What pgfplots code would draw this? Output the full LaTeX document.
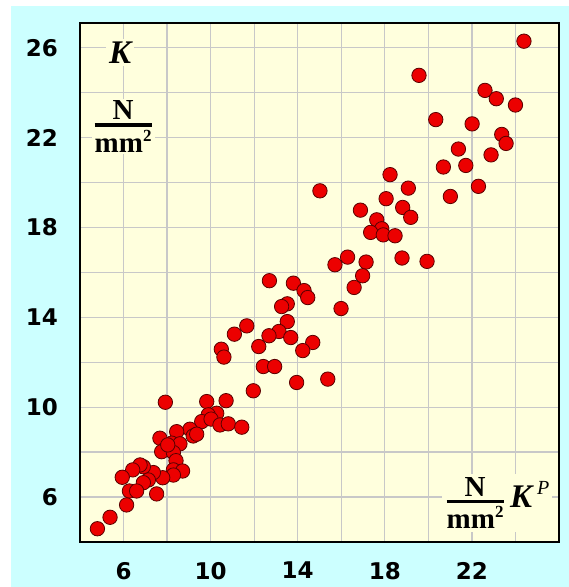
\documentclass[border=0pt]{standalone}
\usepackage{pgfplots}
\pgfplotsset{compat=1.18}
\usepackage{amsmath}
\usepackage{fontspec}
\setmainfont{Liberation Serif}
\newfontfamily\tickfont{DejaVu Sans}
\definecolor{bgcyan}{RGB}{204,255,255}
\definecolor{bgyellow}{RGB}{255,255,221}
\definecolor{gridgray}{RGB}{200,200,200}
\definecolor{markred}{RGB}{236,0,0}
\definecolor{markedge}{RGB}{90,0,0}
\newcommand\Nmm{$\genfrac{}{}{3.5pt}{1}{\hbox{\bfseries N}}{\hbox{\bfseries mm\raisebox{0.38em}{\fontsize{17}{17}\selectfont 2}}}$}
\pgfplotstableread{
x y
24.39 26.29
19.57 24.77
22.60 24.10
23.12 23.73
24.00 23.45
20.34 22.80
22.01 22.61
23.37 22.14
23.57 21.74
21.38 21.49
22.88 21.23
20.69 20.69
21.72 20.76
19.08 19.75
22.30 19.83
21.01 19.38
18.82 18.89
19.19 18.45
18.24 20.35
18.06 19.28
16.88 18.77
17.63 18.34
17.86 17.94
17.35 17.78
17.93 17.67
18.47 17.63
16.29 16.68
15.71 16.34
17.14 16.46
18.79 16.64
19.94 16.49
16.98 15.85
16.59 15.33
15.99 14.39
15.02 19.63
13.80 15.52
14.29 15.19
14.46 14.88
13.52 14.60
13.26 14.48
13.52 13.81
13.14 13.37
13.68 13.10
14.69 12.88
14.23 12.52
13.95 11.10
15.38 11.25
12.70 15.63
11.66 13.62
11.09 13.25
12.68 13.18
12.21 12.70
10.49 12.58
10.61 12.23
12.42 11.81
12.94 11.81
11.96 10.73
10.71 10.29
9.82 10.25
7.92 10.22
10.28 9.73
9.89 9.66
9.59 9.36
10.02 9.47
10.43 9.21
10.81 9.26
11.43 9.11
9.05 9.02
9.20 8.72
9.36 8.80
8.44 8.91
7.67 8.62
8.21 8.40
8.59 8.37
7.90 8.13
7.75 8.02
8.29 7.98
8.41 7.62
8.03 8.32
8.29 7.21
8.71 7.16
8.29 6.98
7.80 6.86
7.37 7.09
6.91 7.35
6.76 7.43
6.42 7.21
5.94 6.88
7.14 6.76
6.91 6.64
6.27 6.27
6.60 6.27
7.52 6.14
6.14 5.65
5.38 5.10
4.80 4.59
}\pts
\begin{document}
\begin{tikzpicture}
\fill[white] (0,0) rectangle (569pt,587pt);
\fill[bgcyan] (11pt,0) rectangle (569pt,581pt);
\begin{axis}[
  at={(80pt,45pt)}, anchor=south west,
  scale only axis, width=479pt, height=519pt,
  xmin=4, xmax=26, ymin=4, ymax=27.1,
  axis background/.style={fill=bgyellow},
  axis line style={line width=1.6pt, black},
  xtick={6,10,14,18,22}, ytick={6,10,14,18,22,26},
  minor xtick={8,12,16,20,24}, minor ytick={8,12,16,20,24},
  grid=both,
  major grid style={gridgray, line width=1.3pt},
  minor grid style={gridgray, line width=1.3pt},
  major tick length=0pt, minor tick length=0pt,
  tick label style={font=\tickfont\bfseries\fontsize{23}{26}\selectfont, inner sep=0pt},
  /pgf/number format/assume math mode=true,
  yticklabel style={xshift=-22pt},
  xticklabel style={yshift=-20pt},
]
\addplot[only marks, mark=*, mark size=7.2pt, mark options={fill=markred, draw=markedge, line width=0.8pt}] table[x=x,y=y] {\pts};
\node[fill=bgyellow, inner sep=3pt, font=\fontsize{33}{40}\selectfont\bfseries\itshape] at (axis cs:5.84,25.78) {K};
\node[fill=bgyellow, inner sep=2pt, font=\fontsize{29}{34}\selectfont] at (axis cs:5.98,22.49) {\Nmm};
\node[fill=bgyellow, inner sep=3pt, anchor=east, font=\fontsize{29}{34}\selectfont] at (axis cs:25.7,5.74) {\Nmm{\fontsize{33}{40}\selectfont\bfseries\itshape\,K}\,\raisebox{0.45em}{\fontsize{20}{20}\selectfont\itshape P}};
\end{axis}
\end{tikzpicture}
\end{document}
